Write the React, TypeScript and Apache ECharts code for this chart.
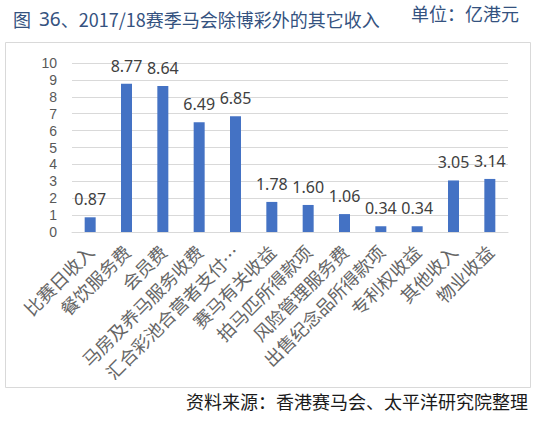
import { useEffect, useRef } from "react";
import * as echarts from "echarts";

const categories = [
  "比赛日收入",
  "餐饮服务费",
  "会员费",
  "马房及养马服务收费",
  "汇合彩池合营者支付…",
  "赛马有关收益",
  "拍马匹所得款项",
  "风险管理服务费",
  "出售纪念品所得款项",
  "专利权收益",
  "其他收入",
  "物业收益",
];
const incomeValues = [0.87, 8.77, 8.64, 6.49, 6.85, 1.78, 1.6, 1.06, 0.34, 0.34, 3.05, 3.14];
const yTicks = { min: 0, max: 10, interval: 1 };

const CJK = '"Noto Sans CJK SC", "Noto Sans", sans-serif';
const NUM = '"Noto Sans", "Open Sans", sans-serif';
const AXIS_NUM = '"Liberation Sans", Arial, sans-serif';

export default function App() {
  const rootRef = useRef<HTMLDivElement | null>(null);

  useEffect(() => {
    if (!rootRef.current) {
      return;
    }
    const chart = echarts.init(rootRef.current, undefined, { renderer: "svg" });
    chart.setOption({
      animation: false,
      backgroundColor: "#ffffff",
      title: {
        left: 8,
        top: 4,
        text: "{a|图}{b|36}{a|、2017/18赛季马会除博彩外的其它收入}",
        textStyle: {
          fontWeight: "normal",
          rich: {
            a: { fontSize: 18, color: "#34527f", fontFamily: CJK, fontWeight: "normal" },
            b: { fontSize: 19, color: "#34527f", fontFamily: NUM, fontWeight: "normal", padding: [0, 0, 0, 8] },
          },
        },
      },
      graphic: [
        {
          type: "text",
          left: 411,
          top: 4,
          style: { text: "单位：亿港元", fontSize: 18, fill: "#34527f", fontFamily: CJK },
        },
        {
          type: "rect",
          silent: true,
          shape: { x: 5.5, y: 42.5, width: 525, height: 345 },
          style: { fill: "none", stroke: "#d9d9d9", lineWidth: 1 },
          z: -1,
        },
        {
          type: "text",
          right: 26,
          top: 392,
          style: { text: "资料来源：香港赛马会、太平洋研究院整理", fontSize: 18, fill: "#1a1a1a", fontFamily: CJK },
        },
      ],
      grid: { left: 72, right: 46, top: 63, bottom: 191, containLabel: false },
      xAxis: {
        type: "category",
        data: categories,
        axisLine: { lineStyle: { color: "#d9d9d9" } },
        axisTick: { show: false },
        axisLabel: {
          interval: 0,
          rotate: 45,
          margin: 16,
          color: "#666666",
          fontSize: 18,
          fontFamily: CJK,
        },
      },
      yAxis: {
        type: "value",
        min: yTicks.min,
        max: yTicks.max,
        interval: yTicks.interval,
        axisLine: { show: false },
        axisTick: { show: false },
        axisLabel: { color: "#595959", fontSize: 14, lineHeight: 14, fontFamily: AXIS_NUM, margin: 15 },
        splitLine: { lineStyle: { color: "#d9d9d9" } },
      },
      series: [
        {
          type: "bar",
          data: incomeValues,
          barWidth: 11,
          itemStyle: { color: "#4472c4" },
          label: {
            show: true,
            position: "top",
            distance: 10,
            color: "#404040",
            fontSize: 16,
            fontFamily: NUM,
            formatter: (p: { value: number }) => p.value.toFixed(2),
          },
        },
      ],
    });
    return () => {
      chart.dispose();
    };
  }, []);

  return <div ref={rootRef} style={{ position: "fixed", left: 0, top: 0, width: 554, height: 423 }} />;
}
